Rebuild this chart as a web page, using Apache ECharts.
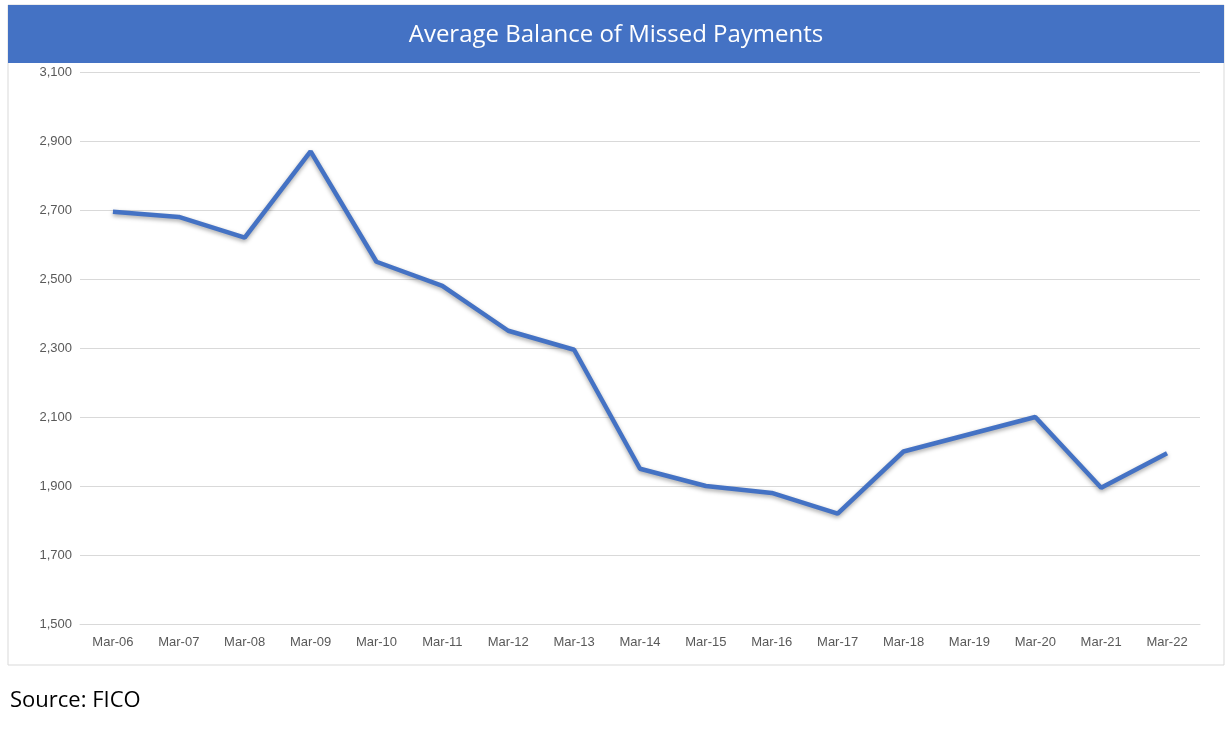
<!DOCTYPE html>
<html>
<head>
<meta charset="utf-8">
<script src="https://cdn.jsdelivr.net/npm/echarts@6/dist/echarts.min.js"></script>
<style>
  html, body { margin: 0; padding: 0; background: #fff; }
  #chart { width: 1232px; height: 732px; }
</style>
</head>
<body>
<div id="chart"></div>
<script>
const categories = ['Mar-06', 'Mar-07', 'Mar-08', 'Mar-09', 'Mar-10', 'Mar-11', 'Mar-12', 'Mar-13', 'Mar-14',
  'Mar-15', 'Mar-16', 'Mar-17', 'Mar-18', 'Mar-19', 'Mar-20', 'Mar-21', 'Mar-22'];
const balances = [2695, 2680, 2620, 2870, 2550, 2480, 2350, 2295, 1950, 1900, 1880, 1820, 2000, 2050, 2100, 1895, 1995];
const titleText = 'Average Balance of Missed Payments';
const sourceText = 'Source: FICO';

const chart = echarts.init(document.getElementById('chart'));
chart.setOption({
  backgroundColor: '#fff',
  animation: false,
  graphic: [
    { type: 'rect', shape: { x: 8, y: 5, width: 1216, height: 660 },
      style: { fill: 'none', stroke: '#d9d9d9', lineWidth: 1 } },
    { type: 'rect', shape: { x: 8, y: 5, width: 1216, height: 58 },
      style: { fill: '#4472c4' } },
    { type: 'text', left: 10, top: 690,
      style: { text: sourceText, fontSize: 22, fill: '#000', fontFamily: 'Open Sans' } },
  ],
  title: {
    text: titleText,
    left: 'center',
    top: 18,
    textStyle: { color: '#fff', fontSize: 24, fontWeight: 'normal', fontFamily: 'Open Sans' },
  },
  grid: { left: 80, right: 32, top: 72, bottom: 108 },
  xAxis: {
    type: 'category',
    data: categories,
    boundaryGap: true,
    axisLine: { lineStyle: { color: '#d9d9d9' } },
    axisTick: { show: false },
    axisLabel: { color: '#595959', fontSize: 13, margin: 12, fontFamily: 'Liberation Sans' },
  },
  yAxis: {
    type: 'value',
    min: 1500,
    max: 3100,
    interval: 200,
    axisLine: { show: false },
    axisTick: { show: false },
    axisLabel: {
      color: '#595959', fontSize: 13, fontFamily: 'Liberation Sans',
      formatter: (v) => v.toLocaleString('en-US'),
    },
    splitLine: { lineStyle: { color: '#d9d9d9' } },
  },
  series: [{
    type: 'line',
    data: balances,
    symbol: 'none',
    lineStyle: { color: '#4472c4', width: 4.5, shadowColor: 'rgba(0,0,0,0.35)', shadowBlur: 4, shadowOffsetY: 2 },
  }],
});
</script>
</body>
</html>
